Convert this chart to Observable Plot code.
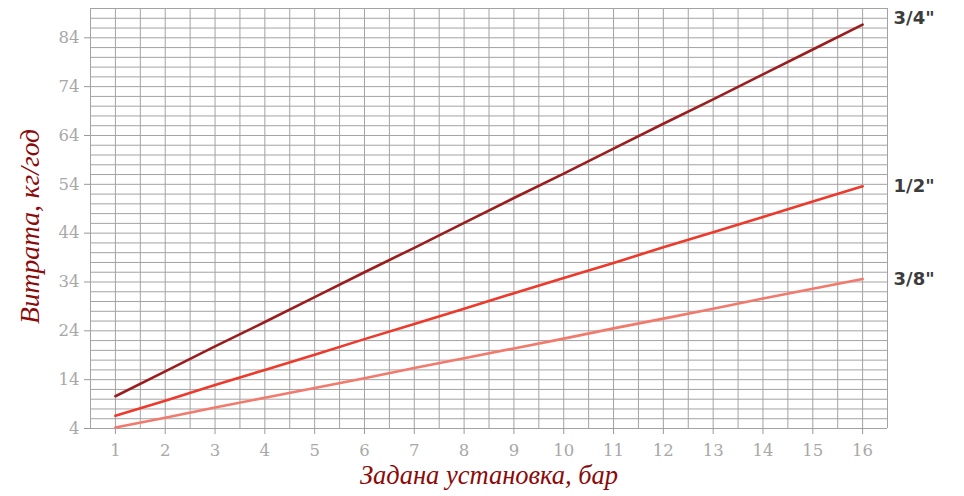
<!DOCTYPE html>
<html>
<head>
<meta charset="utf-8">
<script src="https://cdn.jsdelivr.net/npm/d3@7"></script>
<script src="https://cdn.jsdelivr.net/npm/@observablehq/plot@0.6"></script>
<style>
  html, body { margin: 0; padding: 0; background: #fff; }
  #chart svg { display: block; }
  g[aria-label="x-axis tick label"], g[aria-label="y-axis tick label"] { fill: #a8a8a8; }
  g[aria-label="x-axis tick"], g[aria-label="y-axis tick"] { stroke: #999; }
</style>
</head>
<body>
<div id="chart"></div>
<script>
// Setting (bar)
const pressure = [1, 2, 3, 4, 5, 6, 7, 8, 9, 10, 11, 12, 13, 14, 15, 16];
// Flow (kg/h) per connection size
const flow34 = [10.6, 15.7, 20.8, 25.8, 30.9, 36.0, 41.0, 46.1, 51.2, 56.2, 61.3, 66.4, 71.4, 76.5, 81.6, 86.7];
const flow12 = [6.6, 9.7, 12.9, 16.0, 19.1, 22.3, 25.4, 28.5, 31.7, 34.8, 37.9, 41.1, 44.2, 47.3, 50.5, 53.6];
const flow38 = [4.2, 6.2, 8.3, 10.3, 12.3, 14.3, 16.4, 18.4, 20.4, 22.4, 24.5, 26.5, 28.5, 30.6, 32.6, 34.6];
const seriesNames = ["3/4\"", "1/2\"", "3/8\""];
const xTicks = [1, 2, 3, 4, 5, 6, 7, 8, 9, 10, 11, 12, 13, 14, 15, 16];
const yTicks = [4, 14, 24, 34, 44, 54, 64, 74, 84];
const xTitle = "Задана установка, бар";
const yTitle = "Витрата, кг/год";

const colors = ["#9a1e1e", "#ec3a2c", "#f27a6c"];
const seriesValues = [flow34, flow12, flow38];
const rows = [];
seriesNames.forEach((s, i) => pressure.forEach((p, j) => rows.push({series: s, x: p, y: seriesValues[i][j]})));
const ends = seriesNames.map((s, i) => ({series: s, x: pressure[pressure.length - 1], y: seriesValues[i][seriesValues[i].length - 1]}));
const labelDy = [-6, 0, 0];

const gridX = d3.range(0.5, 16.51, 0.5);
const gridY = d3.range(4, 90.01, 2);

const chart = Plot.plot({
  width: 964,
  height: 496,
  marginLeft: 90,
  marginRight: 77,
  marginTop: 8,
  marginBottom: 68,
  x: {domain: [0.5, 16.5]},
  y: {domain: [4, 90]},
  color: {domain: seriesNames, range: colors},
  style: {background: "#fff"},
  marks: [
    Plot.ruleX(gridX, {stroke: "#a3a3a3", strokeWidth: 1}),
    Plot.ruleY(gridY, {stroke: "#a3a3a3", strokeWidth: 1}),
    Plot.axisX({ticks: xTicks, tickSize: 6, tickPadding: 10, label: null, fontSize: 16.5, fontFamily: "DejaVu Serif", tickFormat: d => String(d)}),
    Plot.axisY({ticks: yTicks, tickSize: 6, tickPadding: 5, label: null, fontSize: 16.5, fontFamily: "DejaVu Serif", tickFormat: d => String(d)}),
    Plot.line(rows, {x: "x", y: "y", z: "series", stroke: "series", strokeWidth: 2.6}),
    ...ends.map((d, i) => Plot.text([d], {x: "x", y: "y", text: "series", dx: 31, dy: labelDy[i], textAnchor: "start", fontFamily: "DejaVu Sans", fontWeight: "bold", fontSize: 18, fill: "#3c3c3c"})),
    Plot.text([yTitle], {frameAnchor: "left", text: d => d, rotate: -90, dx: -60, dy: 8, textAnchor: "middle", fontFamily: "Liberation Serif", fontStyle: "italic", fontSize: 27.5, fill: "#8b0a0a"}),
    Plot.text([xTitle], {frameAnchor: "bottom", text: d => d, dy: 55, textAnchor: "middle", fontFamily: "Liberation Serif", fontStyle: "italic", fontSize: 26.5, fill: "#8b0a0a"})
  ]
});
document.getElementById("chart").appendChild(chart);
</script>
</body>
</html>
